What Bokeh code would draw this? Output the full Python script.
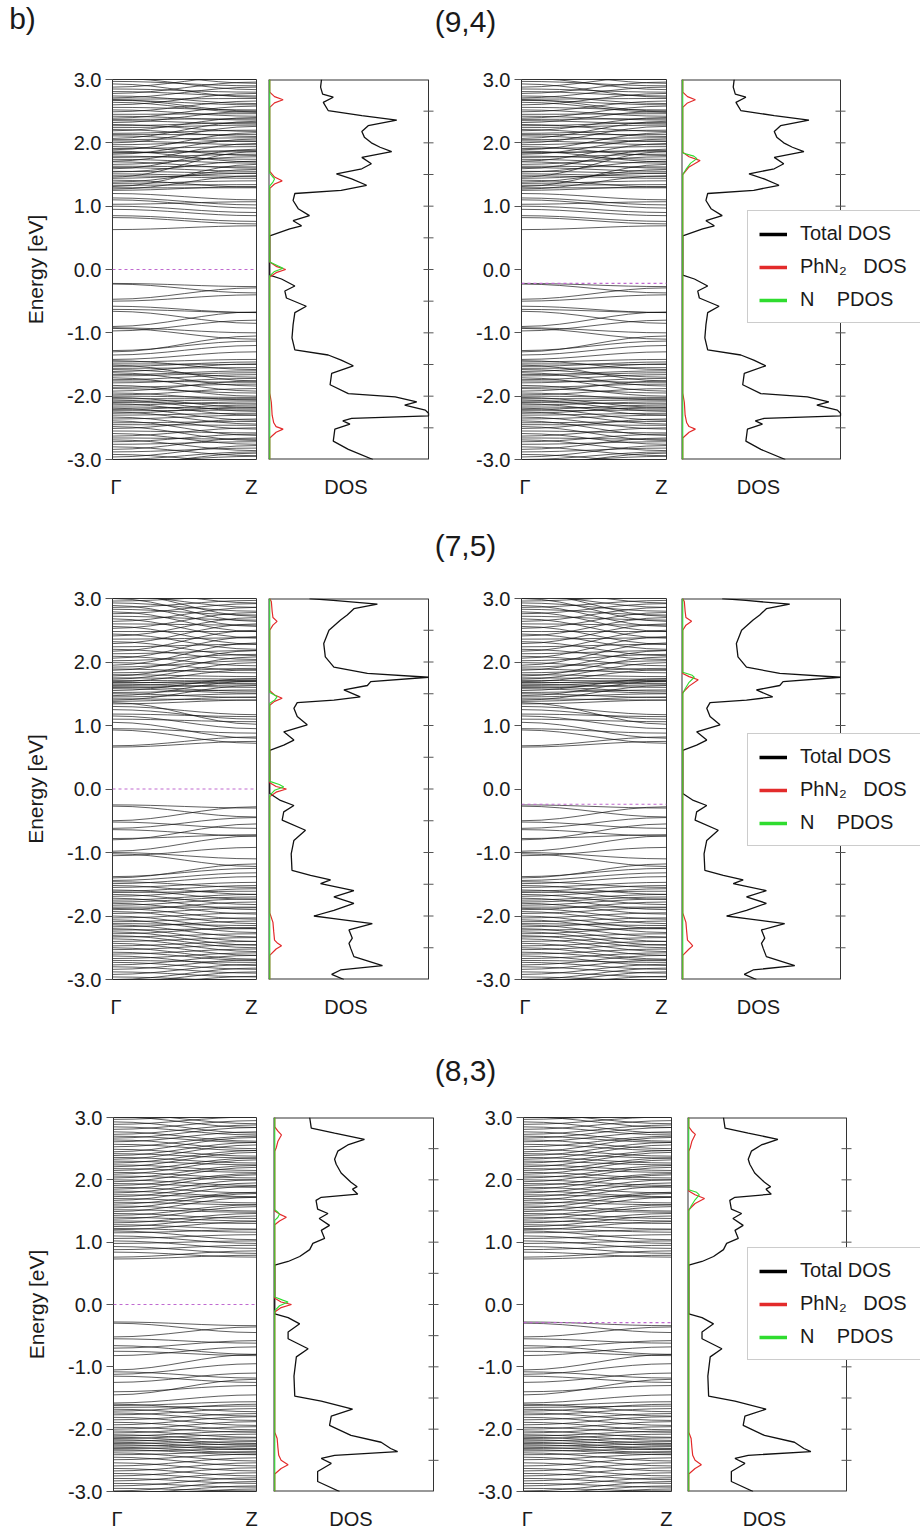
import numpy as np
from bokeh.plotting import figure
from bokeh.layouts import column, row
from bokeh.models import (Range1d, FixedTicker, Legend, LegendItem,
                          PrintfTickFormatter, Span, ColumnDataSource)
from bokeh.core.properties import value
from bokeh.embed import file_html
from bokeh.resources import INLINE

# ------------------------------------------------------------------ data
panel_label = "b)"
tube_labels = ["(9,4)", "(7,5)", "(8,3)"]
k_labels = ["\u0393", "Z"]
K_G, K_Z = 0.0, 1.0
energy_ticks = [-3, -2, -1, 0, 1, 2, 3]
dos_ticks = [-2.5, -2.0, -1.5, -1.0, -0.5, 0.0, 0.5, 1.0, 1.5, 2.0, 2.5]
dos_axis_label = "DOS"
energy_label = "Energy [eV]"
legend_labels = ["Total DOS", "PhN\u2082\u00a0\u00a0\u00a0DOS\u00a0", "N\u00a0\u00a0\u00a0\u00a0PDOS"]

# Fermi level (left panel, right panel) per tube
fermi_94 = [0.0, -0.22]
fermi_75 = [0.0, -0.24]
fermi_83 = [0.0, -0.29]

# bands: (energy at Gamma, energy at Z)
bands_94 = [
    (0.63, 0.69), (0.82, 0.72), (0.85, 0.76), (0.95, 0.85), (1.00, 0.90), (1.03, 1.07),
    (1.10, 0.97), (1.13, 1.02), (1.20, 1.10),
    (1.25, 1.31), (1.27, 1.48), (1.29, 1.29), (1.31, 1.66), (1.33, 1.34), (1.36, 1.40),
    (1.38, 1.58), (1.41, 1.30), (1.44, 1.52), (1.46, 1.86), (1.48, 1.44), (1.51, 1.47),
    (1.54, 1.71), (1.55, 1.52), (1.59, 1.90), (1.61, 1.55), (1.63, 1.62), (1.66, 1.78),
    (1.70, 1.60), (1.71, 1.99), (1.74, 1.68), (1.77, 1.82), (1.79, 1.74), (1.82, 2.06),
    (1.84, 1.88), (1.85, 1.86), (1.87, 1.70), (1.89, 2.16), (1.91, 1.94), (1.94, 1.80),
    (1.97, 2.03), (2.00, 2.26), (2.03, 1.97), (2.05, 2.08), (2.07, 2.34), (2.11, 2.02),
    (2.13, 2.13), (2.15, 2.20), (2.19, 2.40), (2.21, 2.10), (2.24, 2.28), (2.27, 2.32),
    (2.29, 2.18), (2.32, 2.50), (2.35, 2.30), (2.37, 2.38), (2.39, 2.58), (2.42, 2.36),
    (2.45, 2.46), (2.49, 2.66), (2.52, 2.42), (2.56, 2.52), (2.60, 2.78), (2.64, 2.48),
    (2.67, 2.60), (2.68, 2.50), (2.69, 2.70), (2.71, 2.88), (2.74, 2.62), (2.78, 2.96),
    (2.81, 2.74), (2.85, 2.80), (2.88, 3.06), (2.93, 2.72), (2.97, 2.90), (3.02, 2.84),
    (3.06, 3.00), (3.10, 2.94),
    (-0.22, -0.27), (-0.23, -0.37), (-0.47, -0.29), (-0.50, -0.40), (-0.58, -0.68),
    (-0.63, -0.68), (-0.66, -0.85), (-0.90, -0.67), (-0.92, -1.00), (-0.93, -1.10),
    (-0.97, -0.80), (-1.28, -1.13), (-1.30, -1.05), (-1.35, -1.20),
    (-1.42, -1.30), (-1.44, -1.58), (-1.46, -1.42), (-1.49, -1.50), (-1.51, -1.76),
    (-1.53, -1.46), (-1.56, -1.55), (-1.58, -1.70), (-1.61, -1.49), (-1.63, -1.84),
    (-1.66, -1.60), (-1.68, -1.63), (-1.71, -1.92), (-1.74, -1.66), (-1.76, -1.78),
    (-1.79, -1.72), (-1.83, -2.00), (-1.86, -1.81), (-1.88, -1.95), (-1.92, -1.76),
    (-1.95, -2.06), (-1.98, -1.88), (-2.00, -2.02), (-2.02, -2.18), (-2.04, -2.04),
    (-2.06, -2.24), (-2.08, -2.06), (-2.10, -2.12), (-2.12, -2.30), (-2.14, -2.09),
    (-2.17, -2.20), (-2.19, -2.38), (-2.21, -2.14), (-2.23, -2.22), (-2.25, -2.44),
    (-2.27, -2.17), (-2.30, -2.27), (-2.33, -2.52), (-2.36, -2.30), (-2.39, -2.62),
    (-2.42, -2.40), (-2.45, -2.46), (-2.48, -2.70), (-2.51, -2.36), (-2.55, -2.58),
    (-2.59, -2.76), (-2.63, -2.50), (-2.66, -2.68), (-2.69, -2.86), (-2.72, -2.60),
    (-2.76, -2.72), (-2.80, -2.94), (-2.84, -2.66), (-2.88, -2.82), (-2.92, -3.04),
    (-2.96, -2.78), (-3.00, -2.88), (-3.04, -2.95), (-3.08, -2.90),
]
bands_75 = [
    (0.66, 0.75), (0.68, 0.82), (0.93, 0.72), (0.95, 0.88), (1.05, 0.80), (1.10, 1.06),
    (1.15, 0.95), (1.18, 1.14), (1.25, 1.10), (1.30, 1.17), (1.34, 1.40), (1.36, 1.02),
    (1.38, 1.45), (1.40, 1.63), (1.42, 1.40), (1.45, 1.50), (1.47, 1.70), (1.50, 1.44),
    (1.52, 1.56), (1.55, 1.74), (1.58, 1.51), (1.60, 1.64), (1.61, 1.54), (1.63, 1.69),
    (1.65, 1.60), (1.67, 1.71), (1.68, 1.66), (1.69, 1.88), (1.71, 1.70), (1.73, 1.99),
    (1.75, 1.73), (1.78, 2.08), (1.80, 1.77), (1.83, 1.90), (1.87, 2.18), (1.89, 1.83),
    (1.92, 2.02), (1.95, 2.30), (1.99, 1.87), (2.02, 2.12), (2.06, 2.40), (2.09, 1.94),
    (2.13, 2.18), (2.17, 2.50), (2.20, 2.04), (2.24, 2.28), (2.29, 2.60), (2.32, 2.10),
    (2.36, 2.38), (2.41, 2.70), (2.44, 2.20), (2.48, 2.48), (2.53, 2.78), (2.56, 2.28),
    (2.60, 2.58), (2.64, 2.86), (2.68, 2.38), (2.72, 2.66), (2.76, 2.92), (2.79, 2.48),
    (2.83, 2.74), (2.86, 2.97), (2.89, 2.56), (2.93, 2.80), (2.96, 3.04), (3.00, 2.64),
    (3.04, 2.86), (3.08, 2.72), (3.12, 2.93),
    (-0.25, -0.30), (-0.27, -0.44), (-0.50, -0.28), (-0.52, -0.62), (-0.62, -0.45),
    (-0.64, -0.74), (-0.78, -0.72), (-0.80, -0.55), (-0.98, -0.74), (-1.00, -1.10),
    (-1.02, -1.22), (-1.05, -0.92), (-1.38, -1.25), (-1.40, -1.18), (-1.44, -1.32),
    (-1.46, -1.55), (-1.49, -1.38), (-1.52, -1.66), (-1.55, -1.47), (-1.59, -1.74),
    (-1.61, -1.52), (-1.63, -1.61), (-1.66, -1.82), (-1.69, -1.57), (-1.72, -1.90),
    (-1.75, -1.66), (-1.78, -1.70), (-1.80, -1.97), (-1.83, -1.73), (-1.86, -1.86),
    (-1.88, -2.05), (-1.90, -1.78), (-1.93, -2.12), (-1.96, -1.87), (-2.00, -2.20),
    (-2.03, -1.95), (-2.06, -2.26), (-2.09, -2.03), (-2.12, -2.15), (-2.14, -2.33),
    (-2.17, -2.08), (-2.20, -2.40), (-2.22, -2.20), (-2.25, -2.46), (-2.28, -2.18),
    (-2.31, -2.50), (-2.33, -2.28), (-2.36, -2.56), (-2.40, -2.34), (-2.43, -2.62),
    (-2.47, -2.40), (-2.50, -2.68), (-2.53, -2.45), (-2.57, -2.70), (-2.60, -2.52),
    (-2.63, -2.78), (-2.67, -2.58), (-2.70, -2.73), (-2.73, -2.84), (-2.77, -2.62),
    (-2.80, -2.90), (-2.84, -2.69), (-2.88, -2.96), (-2.92, -2.76), (-2.96, -3.02),
    (-3.00, -2.82), (-3.04, -2.88), (-3.08, -2.95),
]
bands_83 = [
    (0.73, 0.79), (0.76, 0.86), (0.84, 0.76), (0.88, 0.95), (0.93, 0.82), (0.98, 1.02),
    (1.02, 0.90), (1.06, 1.12), (1.10, 0.98), (1.15, 1.20), (1.18, 1.04),
    (1.20, 1.33), (1.22, 1.16), (1.25, 1.42), (1.28, 1.21), (1.31, 1.46), (1.34, 1.30),
    (1.37, 1.57), (1.40, 1.34), (1.43, 1.60), (1.46, 1.38), (1.49, 1.72), (1.52, 1.48),
    (1.55, 1.78), (1.58, 1.50), (1.61, 1.80), (1.64, 1.60), (1.67, 1.90), (1.70, 1.63),
    (1.73, 1.95), (1.76, 1.72), (1.79, 2.00), (1.82, 1.73), (1.85, 2.08), (1.88, 1.79),
    (1.91, 2.10), (1.94, 1.88), (1.97, 2.20), (2.00, 1.91), (2.03, 2.23), (2.06, 2.00),
    (2.09, 2.32), (2.12, 2.03), (2.15, 2.35), (2.18, 2.12), (2.21, 2.44), (2.24, 2.15),
    (2.27, 2.47), (2.30, 2.24), (2.33, 2.56), (2.36, 2.27), (2.39, 2.60), (2.42, 2.35),
    (2.45, 2.68), (2.49, 2.38), (2.53, 2.70), (2.57, 2.47), (2.61, 2.77), (2.64, 2.50),
    (2.67, 2.84), (2.70, 2.60), (2.73, 2.88), (2.77, 2.62), (2.81, 2.95), (2.85, 2.72),
    (2.89, 3.01), (2.93, 2.75), (2.97, 3.06), (3.01, 2.84), (3.05, 2.90),
    (-0.28, -0.34), (-0.30, -0.45), (-0.52, -0.36), (-0.55, -0.62), (-0.66, -0.80),
    (-0.70, -0.58), (-0.75, -0.82), (-0.82, -0.68), (-1.05, -0.80), (-1.08, -1.18),
    (-1.12, -0.95), (-1.15, -1.25), (-1.25, -1.10), (-1.40, -1.30), (-1.45, -1.20),
    (-1.58, -1.45), (-1.60, -1.72), (-1.62, -1.56), (-1.65, -1.63), (-1.68, -1.79),
    (-1.71, -1.60), (-1.74, -1.86), (-1.77, -1.67), (-1.81, -1.94), (-1.85, -1.75),
    (-1.89, -2.01), (-1.93, -1.80), (-1.97, -2.05), (-2.00, -1.88), (-2.03, -2.13),
    (-2.06, -1.96), (-2.09, -2.18), (-2.11, -2.03), (-2.13, -2.23), (-2.15, -2.08),
    (-2.17, -2.26), (-2.19, -2.14), (-2.21, -2.31), (-2.23, -2.20), (-2.25, -2.33),
    (-2.27, -2.24), (-2.29, -2.38), (-2.31, -2.28), (-2.33, -2.41), (-2.35, -2.32),
    (-2.38, -2.51), (-2.41, -2.36), (-2.45, -2.59), (-2.49, -2.40), (-2.54, -2.67),
    (-2.59, -2.46), (-2.63, -2.75), (-2.67, -2.54), (-2.71, -2.81), (-2.75, -2.62),
    (-2.79, -2.87), (-2.83, -2.70), (-2.87, -2.93), (-2.91, -2.78), (-2.95, -2.99),
    (-2.99, -2.84), (-3.03, -2.91), (-3.07, -2.96),
]

# total DOS (energy, arbitrary units 0..100, 100 = right edge of panel)
dos_e_94 = [3.0, 2.88, 2.77, 2.72, 2.64, 2.51, 2.43, 2.36, 2.27, 2.18, 2.09, 2.00, 1.93, 1.86,
            1.77, 1.67, 1.59, 1.51, 1.43, 1.33, 1.25, 1.20, 1.09, 0.96, 0.85, 0.77, 0.69, 0.64,
            0.53, -0.09, -0.15, -0.26, -0.34, -0.45, -0.58, -0.68, -0.87, -1.08, -1.27, -1.35,
            -1.43, -1.52, -1.64, -1.82, -1.96, -2.01, -2.09, -2.14, -2.22, -2.27, -2.31, -2.35,
            -2.39, -2.44, -2.52, -2.71, -2.84, -3.0]
dos_v_94 = [32.6, 32, 33.3, 40, 33.7, 36.8, 58, 80, 62, 58, 59.6, 64, 69.5, 76.8,
            58, 64, 58, 42, 51.6, 61, 45, 15.8, 14.7, 17.9, 25, 14.7, 20, 12.6,
            0, 0, 7.4, 15.8, 9.5, 10.5, 23, 15.8, 14.7, 14, 15.8, 36.8,
            45, 52.6, 39, 38, 49.5, 79, 92.6, 85, 98, 100, 100, 51.6,
            46, 50.5, 41, 40, 49.5, 65]
dos_e_75 = [3.0, 2.97, 2.91, 2.84, 2.74, 2.66, 2.50, 2.29, 2.08, 1.92, 1.82, 1.76, 1.69, 1.63,
            1.56, 1.45, 1.40, 1.36, 1.27, 1.14, 1.01, 0.90, 0.77, 0.69, 0.61, -0.07, -0.18,
            -0.26, -0.36, -0.49, -0.65, -0.81, -1.02, -1.28, -1.36, -1.43, -1.49, -1.60, -1.70,
            -1.80, -1.91, -2.00, -2.04, -2.12, -2.22, -2.35, -2.43, -2.51, -2.64, -2.78, -2.85,
            -2.92, -3.0]
dos_v_75 = [25, 40, 67.8, 53, 48.8, 44.6, 37.3, 34, 35, 40.4, 61.5, 100, 63.6, 61.5,
            46.7, 57, 40.4, 17.3, 15.2, 17.3, 23.6, 8.8, 15.2, 8.8, 0, 0, 6.7,
            15.2, 8.8, 7.8, 22.5, 15.2, 13.5, 14, 25.7, 38.3, 32, 53, 40.4,
            53, 40.4, 27.8, 40.4, 64.6, 49.9, 52, 49.9, 51, 53, 71, 44.6,
            39, 46.7]
dos_e_83 = [3.0, 2.83, 2.75, 2.65, 2.56, 2.46, 2.33, 2.25, 2.11, 1.96, 1.89, 1.85, 1.77, 1.72,
            1.67, 1.53, 1.46, 1.38, 1.27, 1.19, 1.06, 0.98, 0.88, 0.77, 0.69, 0.63, -0.15,
            -0.21, -0.31, -0.44, -0.55, -0.71, -0.84, -1.15, -1.47, -1.55, -1.68, -1.79, -1.94,
            -2.10, -2.21, -2.31, -2.36, -2.42, -2.47, -2.55, -2.68, -2.84, -3.0]
dos_v_83 = [22, 23, 37.7, 56.5, 46, 39.7, 37.7, 38.7, 41.8, 48, 51.9, 49, 52.3, 29.3,
            26, 27, 33.5, 28, 34.5, 29.3, 31.4, 24, 22, 15.7, 8.4, 0, 0,
            8.4, 15.7, 8.4, 8.4, 21, 13.6, 12.1, 12.6, 29.3, 49, 35.6, 34.5,
            48, 67, 73, 77.4, 37.7, 29.3, 35.6, 27, 27, 40.8]

# PhN2 DOS (red) and N PDOS (green); L = left panel, R = right panel
red_e_94L = [3.0, 2.80, 2.73, 2.68, 2.63, 2.56, 1.55, 1.46, 1.40, 1.35, 1.28, 0.12, 0.05, 0.0,
             -0.05, -0.12, -1.95, -2.10, -2.30, -2.42, -2.48, -2.52, -2.57, -2.66, -3.0]
red_v_94L = [0, 0, 3, 8.4, 3, 0, 0, 3, 7.8, 3, 0, 0, 4, 10, 4, 0, 0, 1, 1.5, 2.5, 4, 8.4, 4, 0, 0]
grn_e_94L = [3.0, 1.52, 1.46, 1.43, 1.38, 1.32, 0.12, 0.06, 0.02, -0.03, -0.10, -3.0]
grn_v_94L = [0, 0, 2, 3, 2, 0, 0, 5, 8.4, 3, 0, 0]
red_e_94R = [3.0, 2.80, 2.73, 2.68, 2.63, 2.56, 1.85, 1.78, 1.72, 1.62, 1.50, -1.95, -2.10,
             -2.30, -2.42, -2.48, -2.52, -2.57, -2.66, -3.0]
red_v_94R = [0, 0, 3, 8, 3, 0, 0, 4, 11, 4, 0, 0, 1, 1.5, 2.5, 4, 8, 4, 0, 0]
grn_e_94R = [3.0, 1.84, 1.79, 1.75, 1.68, 1.58, 1.50, -3.0]
grn_v_94R = [0, 0, 7, 9, 5, 2, 0, 0]

red_e_75L = [3.0, 2.95, 2.80, 2.70, 2.64, 2.58, 2.50, 1.55, 1.48, 1.43, 1.38, 1.32, 0.10, 0.04,
             0.0, -0.05, -0.12, -1.95, -2.10, -2.25, -2.38, -2.43, -2.47, -2.52, -2.62, -3.0]
red_v_75L = [0, 1, 1.5, 2, 4.6, 2, 0, 0, 3, 7.8, 3, 0, 0, 4, 10.5, 4, 0, 0, 2, 2.5, 3, 5, 7.4,
             4, 0, 0]
grn_e_75L = [3.0, 1.52, 1.48, 1.45, 1.40, 1.35, 0.12, 0.07, 0.03, -0.02, -0.10, -3.0]
grn_v_75L = [0, 0, 3, 4.6, 3, 0, 0, 6, 8.8, 3, 0, 0]
red_e_75R = [3.0, 2.95, 2.80, 2.70, 2.64, 2.58, 2.50, 1.82, 1.77, 1.72, 1.62, 1.52, -1.95,
             -2.10, -2.25, -2.38, -2.43, -2.47, -2.52, -2.62, -3.0]
red_v_75R = [0, 1, 1.5, 2, 5.6, 2, 0, 0, 4, 9.8, 4, 0, 0, 2, 2.5, 3, 5, 6.3, 4, 0, 0]
grn_e_75R = [3.0, 1.84, 1.79, 1.76, 1.68, 1.58, 1.50, -3.0]
grn_v_75R = [0, 0, 6, 7.3, 4, 1.5, 0, 0]

red_e_83L = [3.0, 2.85, 2.78, 2.72, 2.62, 2.52, 2.46, 1.50, 1.45, 1.40, 1.34, 1.28, 0.10, 0.04,
             0.0, -0.05, -0.12, -2.05, -2.15, -2.30, -2.42, -2.50, -2.57, -2.63, -2.72, -3.0]
red_v_83L = [0, 0, 2, 4.2, 2, 1, 0, 0, 3, 7.3, 3, 0, 0, 4, 10.5, 4, 0, 0, 1.5, 2, 2.5, 4, 8.4,
             4, 0, 0]
grn_e_83L = [3.0, 1.52, 1.48, 1.45, 1.40, 1.35, 0.12, 0.07, 0.04, -0.02, -0.10, -3.0]
grn_v_83L = [0, 0, 2, 3, 2, 0, 0, 5, 8.4, 3, 0, 0]
red_e_83R = [3.0, 2.85, 2.78, 2.73, 2.62, 2.52, 2.46, 1.82, 1.76, 1.70, 1.62, 1.52, -2.05,
             -2.15, -2.30, -2.42, -2.50, -2.57, -2.63, -2.72, -3.0]
red_v_83R = [0, 0, 2, 4.2, 2, 1, 0, 0, 4, 10, 4, 0, 0, 1.5, 2, 2.5, 4, 8, 4, 0, 0]
grn_e_83R = [3.0, 1.84, 1.80, 1.76, 1.68, 1.58, 1.50, -3.0]
grn_v_83R = [0, 0, 5, 6.7, 4, 1.5, 0, 0]

# ------------------------------------------------------------------ style
FONT = "Liberation Sans"
TXT = "#1a1a1a"
RED = "#e32b2b"
GREEN = "#2fdc2f"
FERMI = "#c06ad0"
E_RANGE = (-3.0, 3.0)
DOS_RANGE = (-0.8, 100.0)


def title_fig(h, texts):
    p = figure(width=920, height=h, output_backend="svg", toolbar_location=None,
               x_range=Range1d(0, 920), y_range=Range1d(0, h),
               min_border_left=0, min_border_right=0, min_border_top=0, min_border_bottom=0,
               x_axis_location=None, y_axis_location=None)
    p.grid.visible = False
    p.outline_line_color = None
    for (t, x, y) in texts:
        p.text(x=[x], y=[y], text=[t], text_font=value(FONT), text_font_size="30px",
               text_align="center", text_baseline="middle", text_color=TXT)
    return p


def band_fig(bands, ef, w, h, bl, br, bt, bb, ylabel=False):
    p = figure(width=w, height=h, output_backend="svg", toolbar_location=None,
               x_range=Range1d(K_G, K_Z), y_range=Range1d(*E_RANGE),
               min_border_left=bl, min_border_right=br, min_border_top=bt, min_border_bottom=bb)
    p.grid.visible = False
    p.outline_line_color = "#333333"
    g = [b[0] for b in bands]
    z = [b[1] for b in bands]
    n = len(bands)
    span = K_Z - K_G
    src = ColumnDataSource(dict(x0=[K_G] * n, y0=g, x1=[K_Z] * n, y1=z,
                                cx0=[K_G + 0.38 * span] * n, cy0=g,
                                cx1=[K_Z - 0.38 * span] * n, cy1=z))
    p.bezier(x0="x0", y0="y0", x1="x1", y1="y1", cx0="cx0", cy0="cy0", cx1="cx1", cy1="cy1",
             source=src, line_color="#111111", line_alpha=0.75, line_width=0.9)
    p.add_layout(Span(location=ef, dimension="width", line_color=FERMI,
                      line_dash="3 3", line_width=1.2))
    ya = p.yaxis[0]
    ya.ticker = FixedTicker(ticks=energy_ticks)
    ya.formatter = PrintfTickFormatter(format="%.1f")
    ya.major_tick_out = 7
    ya.major_tick_in = 0
    ya.minor_tick_line_color = None
    ya.major_label_standoff = 4
    ya.major_label_text_font = FONT
    ya.major_label_text_font_size = "20px"
    ya.major_label_text_color = TXT
    ya.axis_line_color = "#333333"
    ya.major_tick_line_color = "#555555"
    if ylabel:
        ya.axis_label = energy_label
        ya.axis_label_text_font = FONT
        ya.axis_label_text_font_size = "21px"
        ya.axis_label_text_font_style = "normal"
        ya.axis_label_text_color = TXT
        ya.axis_label_standoff = 17
    xa = p.xaxis[0]
    kpos = [K_G + 0.025 * span, K_Z - 0.035 * span]
    xa.ticker = FixedTicker(ticks=kpos)
    xa.major_label_overrides = {kpos[0]: k_labels[0], kpos[1]: k_labels[1]}
    xa.major_tick_line_color = None
    xa.minor_tick_line_color = None
    xa.axis_line_color = None
    xa.major_label_standoff = 10
    xa.major_label_text_font = FONT
    xa.major_label_text_font_size = "20px"
    xa.major_label_text_color = TXT
    return p


def dos_fig(de, dv, re_, rv, ge, gv, w, h, bl, bt, bb, box_px, legend_loc=None):
    frame_px = w - bl
    xs, xe = DOS_RANGE
    upp = (xe - xs) / box_px          # data units per pixel
    p = figure(width=w, height=h, output_backend="svg", toolbar_location=None,
               x_range=Range1d(xs, xs + frame_px * upp), y_range=Range1d(*E_RANGE),
               y_axis_location=None,
               min_border_left=bl, min_border_right=0, min_border_top=bt, min_border_bottom=bb)
    p.grid.visible = False
    p.outline_line_color = None
    e0, e1 = E_RANGE
    # panel box (left / top / bottom lie on the frame edge, so drawn 2px to show 1px)
    p.segment(x0=[xs, xs, xs, xe], y0=[e0, e1, e0, e0], x1=[xe, xe, xs, xe], y1=[e0, e1, e1, e1],
              line_color="#333333", line_width=[2, 2, 2, 1])
    # right-side ticks straddling the box edge
    nt = len(dos_ticks)
    p.segment(x0=[xe - 5 * upp] * nt, x1=[xe + 5 * upp] * nt, y0=dos_ticks, y1=dos_ticks,
              line_color="#555555", line_width=1)
    p.line(x=dv, y=de, line_color="#111111", line_width=1.3)
    p.line(x=rv, y=re_, line_color=RED, line_width=1.2)
    p.line(x=gv, y=ge, line_color=GREEN, line_width=1.1)
    xa = p.xaxis[0]
    mid = 48
    xa.ticker = FixedTicker(ticks=[mid])
    xa.major_label_overrides = {mid: dos_axis_label}
    xa.major_tick_line_color = None
    xa.minor_tick_line_color = None
    xa.axis_line_color = None
    xa.major_label_standoff = 10
    xa.major_label_text_font = FONT
    xa.major_label_text_font_size = "20px"
    xa.major_label_text_color = TXT
    if legend_loc is not None:
        nanx, nany = [np.nan], [np.nan]
        l1 = p.line(x=nanx, y=nany, line_color="black", line_width=3.5)
        l2 = p.line(x=nanx, y=nany, line_color=RED, line_width=3.5)
        l3 = p.line(x=nanx, y=nany, line_color=GREEN, line_width=3.5)
        leg = Legend(items=[LegendItem(label=legend_labels[0], renderers=[l1]),
                            LegendItem(label=legend_labels[1], renderers=[l2]),
                            LegendItem(label=legend_labels[2], renderers=[l3])],
                     location=legend_loc, label_text_font=FONT, label_text_font_size="20px",
                     label_text_color=TXT, glyph_width=28, glyph_height=20, label_height=20,
                     spacing=10, padding=11, margin=0, label_standoff=13,
                     border_line_color="#9a9a9a", border_line_width=1,
                     background_fill_color="white", background_fill_alpha=1.0)
        p.add_layout(leg)
    return p


# ------------------------------------------------------------------ layout
rows_spec = [
    dict(bands=bands_94, ef=fermi_94, de=dos_e_94, dv=dos_v_94,
         L=(red_e_94L, red_v_94L, grn_e_94L, grn_v_94L),
         R=(red_e_94R, red_v_94R, grn_e_94R, grn_v_94R),
         th=50, titles=[(panel_label, 22, 32), (tube_labels[0], 465, 29)],
         fh=470, bt=29, bb=61,
         band_geo=[(262, 112, 6), (224, 73, 6)], dos_geo=[(186, 6, 160), (248, 9, 159)],
         leg=(66, 136)),
    dict(bands=bands_75, ef=fermi_75, de=dos_e_75, dv=dos_v_75,
         L=(red_e_75L, red_v_75L, grn_e_75L, grn_v_75L),
         R=(red_e_75R, red_v_75R, grn_e_75R, grn_v_75R),
         th=50, titles=[(tube_labels[1], 465, 25)],
         fh=470, bt=28, bb=61,
         band_geo=[(262, 112, 6), (224, 73, 6)], dos_geo=[(186, 6, 160), (248, 9, 159)],
         leg=(66, 133)),
    dict(bands=bands_83, ef=fermi_83, de=dos_e_83, dv=dos_v_83,
         L=(red_e_83L, red_v_83L, grn_e_83L, grn_v_83L),
         R=(red_e_83R, red_v_83R, grn_e_83R, grn_v_83R),
         th=50, titles=[(tube_labels[2], 465, 20)],
         fh=442, bt=27, bb=35,
         band_geo=[(262, 113, 6), (224, 70, 6)], dos_geo=[(191, 11, 160), (243, 10, 159)],
         leg=(60, 131)),
]

children = []
for spec in rows_spec:
    assert len(spec["de"]) == len(spec["dv"])
    for grp in (spec["L"], spec["R"]):
        assert len(grp[0]) == len(grp[1]) and len(grp[2]) == len(grp[3])
    children.append(title_fig(spec["th"], spec["titles"]))
    h, bt, bb = spec["fh"], spec["bt"], spec["bb"]
    bg, dg = spec["band_geo"], spec["dos_geo"]
    b1 = band_fig(spec["bands"], spec["ef"][0], bg[0][0], h, bg[0][1], bg[0][2], bt, bb, ylabel=True)
    d1 = dos_fig(spec["de"], spec["dv"], *spec["L"], dg[0][0], h, dg[0][1], bt, bb, dg[0][2])
    b2 = band_fig(spec["bands"], spec["ef"][1], bg[1][0], h, bg[1][1], bg[1][2], bt, bb)
    d2 = dos_fig(spec["de"], spec["dv"], *spec["R"], dg[1][0], h, dg[1][1], bt, bb, dg[1][2],
                 legend_loc=spec["leg"])
    children.append(row(b1, d1, b2, d2, spacing=0))

p = column(*children, spacing=0)
open("out.html", "w").write(file_html(p, INLINE))
